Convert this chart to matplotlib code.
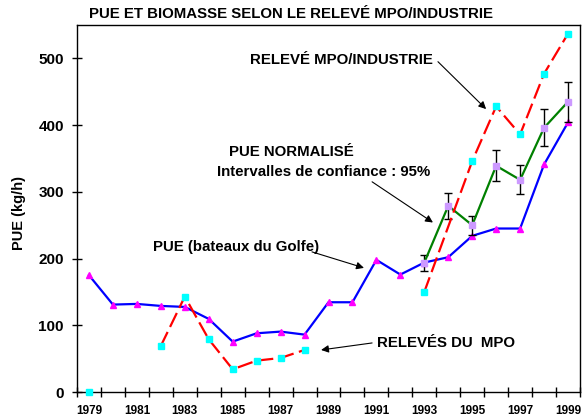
import numpy as np
import matplotlib
matplotlib.use("Agg")
import matplotlib.pyplot as plt

plt.rcParams['font.family'] = ['Liberation Sans', 'DejaVu Sans']
plt.rcParams['font.weight'] = 'bold'

years = list(range(1979, 2000))
# PUE (bateaux du Golfe)
pue_golfe = [175, 131, 132, 129, 127.5, 109.5, 75.5, 88, 90.5, 86, 134.5, 134.5,
             198, 176, 194, 202, 234, 245, 245, 341, 404]
# Relevés du MPO (1979 point isolé, 1982-1988)
mpo_year0 = [1979]
mpo_val0 = [0]
mpo_years = [1982, 1983, 1984, 1985, 1986, 1987, 1988]
mpo_vals = [69, 143, 79, 34, 47, 51, 63]
# Relevé MPO/Industrie
ind_years = [1993, 1995, 1996, 1997, 1998, 1999]
ind_vals = [150, 346, 428, 386, 477, 537]
# PUE normalisée + intervalles de confiance 95%
norm_years = [1993, 1994, 1995, 1996, 1997, 1998, 1999]
norm_vals = [194, 279, 250, 339, 318, 396, 435]
norm_err = [12, 19, 14, 23, 22, 28, 30]

xticklabels = [str(y) for y in range(1979, 2000, 2)]


def xi(ys):
    return [years.index(y) for y in ys]


fig = plt.figure(figsize=(5.82, 4.19), dpi=100)
ax = fig.add_axes([77 / 582, 27 / 419, 503 / 582, 367 / 419])

ax.plot(xi(years), pue_golfe, color='#0000FF', lw=1.6, marker='^', ms=4.5,
        mfc='#FF00FF', mec='#FF00FF', zorder=3)
ax.errorbar(xi(norm_years), norm_vals, yerr=norm_err, color='#008000', lw=1.6,
            marker='s', ms=4.5, mfc='#CC99FF', mec='#CC99FF',
            ecolor='black', elinewidth=1.0, capsize=3, capthick=1.0, zorder=4)
for yrs, vals in [(mpo_years, mpo_vals), (ind_years, ind_vals)]:
    ax.plot(xi(yrs), vals, color='#FF0000', lw=1.6, dashes=(7, 2.5), zorder=5)
    ax.plot(xi(yrs), vals, ls='none', marker='s', ms=4.5, mfc='#00FFFF',
            mec='#00FFFF', zorder=6)
ax.plot(xi(mpo_year0), mpo_val0, ls='none', marker='s', ms=4.5, mfc='#00FFFF',
        mec='#00FFFF', zorder=6, clip_on=False)

ax.set_xlim(-0.5, len(years) - 0.5)
ax.set_ylim(0, 550)
ax.set_xticks(np.arange(-0.5, len(years), 1.0))
ax.set_xticklabels([])
ax.set_xticks(xi(list(range(1979, 2000, 2))), minor=True)
ax.set_xticklabels(xticklabels, minor=True, fontsize=8.5, fontweight='bold')
ax.tick_params(axis='x', which='major', direction='inout', length=7, width=1)
ax.tick_params(axis='x', which='minor', length=0, pad=9)
ax.set_yticks([0, 100, 200, 300, 400, 500])
ax.set_yticklabels(['0', '100', '200', '300', '400', '500'], fontsize=11,
                   fontweight='bold')
ax.tick_params(axis='y', direction='inout', length=7, width=1, pad=6)
for s in ax.spines.values():
    s.set_linewidth(1.0)

fig.text(0.5, (419 - 14) / 419, 'PUE ET BIOMASSE SELON LE RELEVÉ MPO/INDUSTRIE',
         ha='center', va='center', fontsize=10.8, fontweight='bold')
fig.text(19 / 582, (419 - 213) / 419, 'PUE (kg/h)', rotation=90, ha='center',
         va='center', fontsize=10.5, fontweight='bold')

arrow = dict(arrowstyle='-|>', color='black', lw=0.8, mutation_scale=11,
             shrinkA=0, shrinkB=0)
tk = dict(fontsize=10.8, fontweight='bold', ha='left', va='center')

ax.text(6.72, 497, 'RELEVÉ MPO/INDUSTRIE', **tk)
ax.annotate('', xy=(16.58, 424), xytext=(14.57, 495), arrowprops=arrow)

ax.text(5.85, 360, 'PUE NORMALISÉ', **tk)
ax.text(5.35, 330, 'Intervalles de confiance : 95%', **tk)
ax.annotate('', xy=(14.36, 254), xytext=(11.82, 315), arrowprops=arrow)

ax.text(2.67, 217, 'PUE (bateaux du Golfe)', **tk)
ax.annotate('', xy=(11.48, 186), xytext=(9.31, 210), arrowprops=arrow)

ax.text(12.03, 73.5, 'RELEVÉS DU  MPO', **tk)
ax.annotate('', xy=(9.69, 63), xytext=(11.82, 73.5), arrowprops=arrow)

fig.savefig('out.png', dpi=100)
